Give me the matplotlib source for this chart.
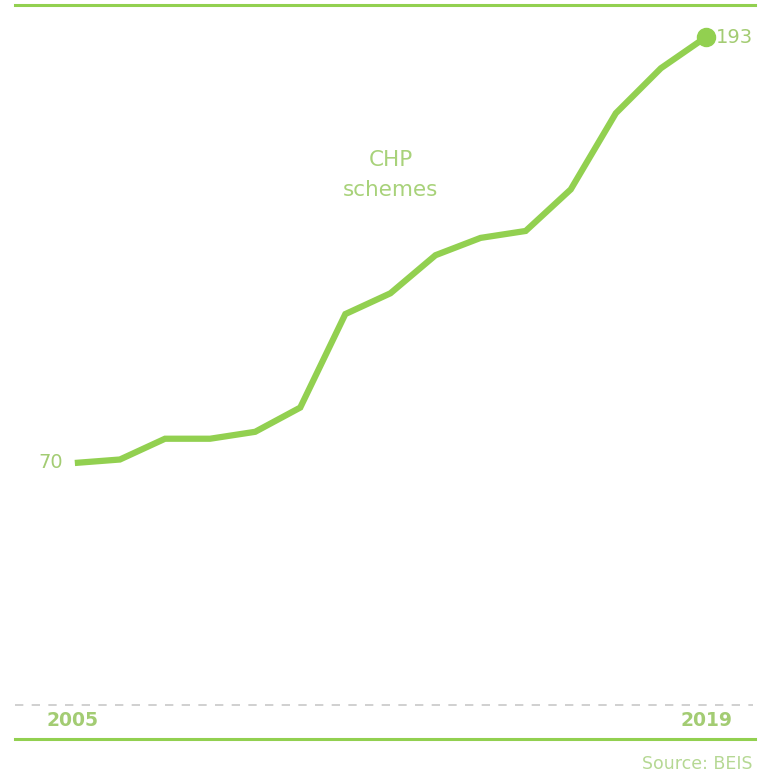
import matplotlib.pyplot as plt
from matplotlib.lines import Line2D
import numpy as np

# data
years = np.arange(2005, 2020)
chp_schemes = [70, 71, 77, 77, 79, 86, 113, 119, 130, 135, 137, 149, 171, 184, 193]

LINE_GREEN = '#92d050'
TEXT_GREEN = '#a3cc73'

plt.rcParams['font.family'] = ['DejaVu Sans']

fig = plt.figure(figsize=(7.61, 7.76), dpi=100)
ax = fig.add_axes([0, 0, 1, 1])
ax.set_xlim(2003.34, 2020.22)
ax.set_ylim(-20.4, 203.7)
ax.axis('off')

ax.plot(years, chp_schemes, color=LINE_GREEN, lw=4.5, solid_joinstyle='miter',
        solid_capstyle='butt')
ax.plot(years[-1], chp_schemes[-1], 'o', color=LINE_GREEN, ms=13)

# zero baseline
ax.axhline(0, xmin=0.02, xmax=0.99, color='#c8c8c8', lw=1.2, ls=(0, (5, 5)))

# frame lines
fig.add_artist(Line2D([0.02, 0.992], [1 - 5 / 776] * 2, color=LINE_GREEN, lw=2.2))
fig.add_artist(Line2D([0.02, 0.992], [1 - 739 / 776] * 2, color=LINE_GREEN, lw=2.2))

ax.text(years[0] - 0.27, chp_schemes[0], str(chp_schemes[0]), ha='right', va='center',
        color=TEXT_GREEN, fontsize=14)
ax.text(years[-1] + 0.22, chp_schemes[-1], str(chp_schemes[-1]), ha='left', va='center',
        color=TEXT_GREEN, fontsize=14)

ax.text(2012, 157.5, 'CHP', ha='center', va='center', color='#a8d27a', fontsize=15.5)
ax.text(2012, 148.8, 'schemes', ha='center', va='center', color='#a8d27a', fontsize=15.5)

fig.text(73 / 761, 1 - 721 / 776, str(years[0]), ha='center', va='center',
         color=TEXT_GREEN, fontsize=13.5, fontweight='bold')
fig.text(706 / 761, 1 - 721 / 776, str(years[-1]), ha='center', va='center',
         color=TEXT_GREEN, fontsize=13.5, fontweight='bold')

fig.text(753 / 761, 1 - 764 / 776, 'Source: BEIS', ha='right', va='center',
         color='#b5d893', fontsize=12.5)

fig.savefig('out.png', dpi=100, facecolor='white')
